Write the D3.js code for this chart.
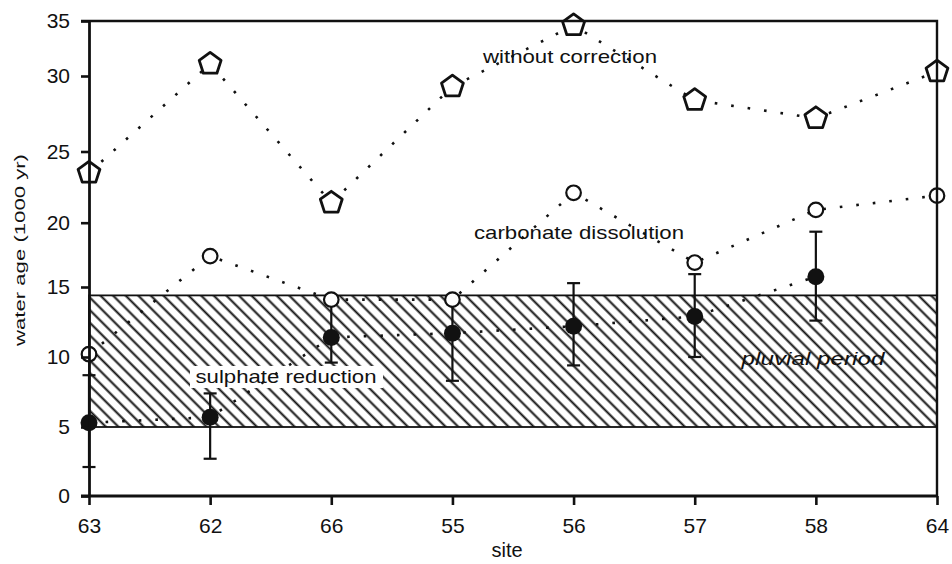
<!DOCTYPE html>
<html>
<head>
<meta charset="utf-8">
<script src="https://cdn.jsdelivr.net/npm/d3@7"></script>
<style>
  body { margin: 0; background: #fff; }
  svg text { font-family: "Liberation Sans", Arial, sans-serif; fill: #111; }
</style>
</head>
<body>
<svg id="chart" width="952" height="564"></svg>
<script>
/*** DATA ***/
var sites = ['63', '62', '66', '55', '56', '57', '58', '64'];
var yTicks = [0, 5, 10, 15, 20, 25, 30, 35];

//water age (1000 yr) per site
var withoutCorrection = [23.5, 31.1, 21.4, 29.3, 34.6, 28.4, 27.2, 30.4];
var carbonateDissolution = [10.2, 17.4, 14.1, 14.1, 22.1, 16.9, 20.9, 21.9];
var sulphateReduction = [5.3, 5.7, 11.4, 11.7, 12.2, 12.9, 15.8, null];
var sulphateLow = [2.1, 2.7, 9.6, 8.3, 9.4, 10.0, 12.6, null];
var sulphateHigh = [8.7, 7.4, 14.2, 14.1, 15.3, 16.0, 19.3, null];

//pluvial period band
var pluvialRange = [5, 14.4];

/*** CHART ***/
var svg = d3.select('#chart');
var ink = '#111';

var x = d3.scalePoint().domain(sites).range([89, 937]);
//the scanned axis is not evenly spaced, so map every tick to where it sits
var y = d3.scaleLinear().domain(yTicks).range([496, 427, 357, 287, 222.7, 151.5, 76, 21]);

//hatch pattern
var defs = svg.append('defs');
defs.append('pattern')
  .attr('id', 'hatch')
  .attr('patternUnits', 'userSpaceOnUse')
  .attr('width', 8.9)
  .attr('height', 8.9)
  .attr('patternTransform', 'rotate(-45)')
  .append('line')
    .attr('x1', 4.45).attr('x2', 4.45)
    .attr('y1', -1).attr('y2', 10)
    .attr('stroke', ink)
    .attr('stroke-width', 2);

//pluvial band
svg.append('rect')
  .attr('x', x.range()[0])
  .attr('y', y(pluvialRange[1]))
  .attr('width', x.range()[1] - x.range()[0])
  .attr('height', y(pluvialRange[0]) - y(pluvialRange[1]))
  .attr('fill', 'url(#hatch)')
  .attr('stroke', ink)
  .attr('stroke-width', 1.8);

//label box over hatch
svg.append('rect')
  .attr('x', 190).attr('y', 366)
  .attr('width', 193).attr('height', 22)
  .attr('fill', '#fff');

//dotted lines
function seriesLine(values) {
  return d3.line()
    .defined(function(d) { return d != null; })
    .x(function(d, i) { return x(sites[i]); })
    .y(function(d) { return y(d); })(values);
}
[withoutCorrection, carbonateDissolution, sulphateReduction].forEach(function(s) {
  svg.append('path')
    .attr('d', seriesLine(s))
    .attr('fill', 'none')
    .attr('stroke', ink)
    .attr('stroke-width', 2.6)
    .attr('stroke-dasharray', '2.6,14');
});

//error bars
var bars = svg.append('g').attr('stroke', ink).attr('stroke-width', 2.2);
sites.forEach(function(s, i) {
  if (sulphateReduction[i] == null) return;
  var cx = x(s);
  bars.append('line')
    .attr('x1', cx).attr('x2', cx)
    .attr('y1', y(sulphateHigh[i])).attr('y2', y(sulphateLow[i]));
  [sulphateHigh[i], sulphateLow[i]].forEach(function(v) {
    bars.append('line')
      .attr('x1', cx - 6.5).attr('x2', cx + 6.5)
      .attr('y1', y(v)).attr('y2', y(v));
  });
});

//pentagon markers
var pentagon = d3.lineRadial()
  .angle(function(d) { return d * 2 * Math.PI / 5; })
  .radius(11.5)
  .curve(d3.curveLinearClosed)([0, 1, 2, 3, 4]);

svg.append('g').selectAll('path')
  .data(withoutCorrection)
  .join('path')
    .attr('d', pentagon)
    .attr('transform', function(d, i) { return 'translate(' + x(sites[i]) + ',' + y(d) + ')'; })
    .attr('fill', '#fff')
    .attr('stroke', ink)
    .attr('stroke-width', 2.8)
    .attr('stroke-linejoin', 'round');

svg.append('g').selectAll('circle')
  .data(carbonateDissolution)
  .join('circle')
    .attr('cx', function(d, i) { return x(sites[i]); })
    .attr('cy', function(d) { return y(d); })
    .attr('r', 7.3)
    .attr('fill', '#fff')
    .attr('stroke', ink)
    .attr('stroke-width', 2.2);

svg.append('g').selectAll('circle')
  .data(sulphateReduction.filter(function(d) { return d != null; }))
  .join('circle')
    .attr('cx', function(d, i) { return x(sites[i]); })
    .attr('cy', function(d) { return y(d); })
    .attr('r', 8.5)
    .attr('fill', ink);

//axes
var yAxis = svg.append('g')
  .attr('transform', 'translate(' + x.range()[0] + ',0)')
  .call(d3.axisLeft(y).tickValues(yTicks).tickSize(8).tickPadding(11).tickSizeOuter(0));
var xAxis = svg.append('g')
  .attr('transform', 'translate(0,' + y(0) + ')')
  .call(d3.axisBottom(x).tickSize(9).tickPadding(13).tickSizeOuter(0));

[yAxis, xAxis].forEach(function(g) {
  g.select('.domain').attr('stroke', ink).attr('stroke-width', 2.8);
  g.selectAll('.tick line').attr('stroke', ink).attr('stroke-width', 2.6);
  g.selectAll('.tick text')
    .attr('fill', ink)
    .style('font-size', '21px')
    .style('font-family', '"Liberation Sans", Arial, sans-serif');
});
xAxis.select('.domain').attr('d', 'M' + (x.range()[0] - 8) + ',0H' + x.range()[1]);

//top and right frame
svg.append('path')
  .attr('d', 'M' + (x.range()[0] - 8) + ',' + y(35) + 'H' + x.range()[1] + 'V' + y(0))
  .attr('fill', 'none')
  .attr('stroke', ink)
  .attr('stroke-width', 2.4);

//titles
svg.append('text')
  .attr('x', 507).attr('y', 557)
  .attr('text-anchor', 'middle')
  .style('font-size', '20px')
  .text('site');

svg.append('text')
  .attr('transform', 'translate(25,250) rotate(-90)')
  .attr('text-anchor', 'middle')
  .attr('textLength', 192)
  .attr('lengthAdjust', 'spacingAndGlyphs')
  .style('font-size', '15px')
  .text('water age (1000 yr)');

//series annotations
var notes = [
  { text: 'without correction', x: 570, y: 63, w: 174, italic: false },
  { text: 'carbonate dissolution', x: 579, y: 239, w: 210, italic: false },
  { text: 'sulphate reduction', x: 286, y: 383, w: 181, italic: false },
  { text: 'pluvial period', x: 813, y: 365, w: 143, italic: true }
];
notes.forEach(function(n) {
  svg.append('text')
    .attr('x', n.x).attr('y', n.y)
    .attr('text-anchor', 'middle')
    .attr('textLength', n.w)
    .attr('lengthAdjust', 'spacingAndGlyphs')
    .style('font-size', '19px')
    .style('font-style', n.italic ? 'italic' : 'normal')
    .text(n.text);
});
</script>
</body>
</html>
